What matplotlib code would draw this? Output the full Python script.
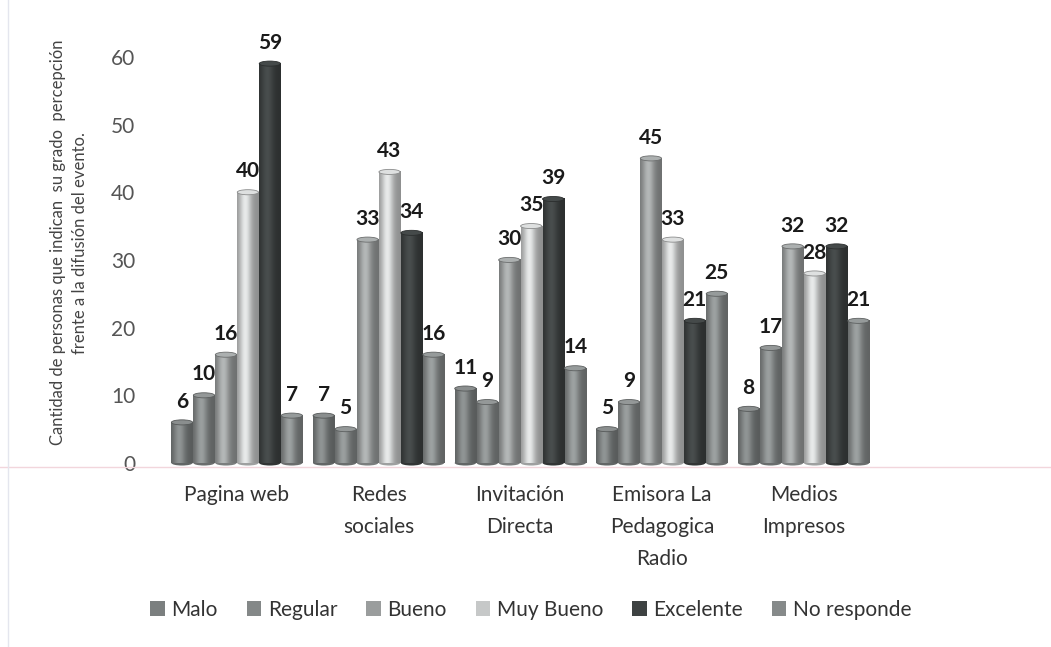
#!/usr/bin/env python3

import numpy as np
import matplotlib
matplotlib.use('Agg')
import matplotlib.pyplot as plt
from matplotlib.patches import Ellipse, Patch
from matplotlib.colors import to_rgb

categories = ['Pagina web', 'Redes\nsociales', 'Invitación\nDirecta',
              'Emisora La\nPedagogica\nRadio', 'Medios\nImpresos']
series = ['Malo', 'Regular', 'Bueno', 'Muy Bueno', 'Excelente', 'No responde']
malo = [6, 7, 11, 5, 8]
regular = [10, 5, 9, 9, 17]
bueno = [16, 33, 30, 45, 32]
muy_bueno = [40, 43, 35, 33, 28]
excelente = [59, 34, 39, 21, 32]
no_responde = [7, 16, 14, 25, 21]
colors = ['#7b7f7f', '#848888', '#9a9d9d', '#c6c8c8', '#3e4242', '#868a8a']


def cylinder(ax, x, w, h, color):
    base = np.array(to_rgb(color))
    t = np.linspace(0, 1, 64)
    prof = 0.72 + 0.45 * np.exp(-((t - 0.38) / 0.28) ** 2)
    img = np.clip(base[None, None, :] * prof[None, :, None], 0, 1)
    ax.imshow(img, extent=[x - w / 2, x + w / 2, 0, h], aspect='auto',
              zorder=2, interpolation='bilinear')
    eh = 0.75
    ax.add_patch(Ellipse((x, 0), w, eh, facecolor=base * 0.8,
                         edgecolor='none', zorder=1.9, clip_on=False))
    ax.add_patch(Ellipse((x, h), w, eh, facecolor=np.clip(base * 1.12, 0, 1),
                         edgecolor=base * 0.7, lw=0.6, zorder=3))


def main():
    plt.rcParams['font.family'] = ['Lato', 'DejaVu Sans']
    data = [malo, regular, bueno, muy_bueno, excelente, no_responde]

    fig = plt.figure(figsize=(10.51, 6.47), dpi=100)
    ax = fig.add_axes([0.158, 184 / 647, 0.674, 440 / 647])

    w = 0.15
    step = 0.155
    for i, vals in enumerate(data):
        for g, v in enumerate(vals):
            x = g + (i - 2.5) * step
            cylinder(ax, x, w, v, colors[i])
            ax.text(x, v + 1.6, str(v), ha='center', va='bottom',
                    fontsize=15, fontweight='bold', color='#1a1a1a', zorder=4)

    ax.set_xlim(-0.5, 4.5)
    ax.set_ylim(0, 65)
    ax.set_aspect('auto')
    ax.set_yticks(range(0, 61, 10))
    ax.set_xticks(range(len(categories)))
    ax.set_xticklabels(categories, fontsize=15, color='#3a3a3a', linespacing=1.75)
    ax.tick_params(axis='both', length=0, labelsize=15, labelcolor='#555555')
    ax.tick_params(axis='x', pad=16, labelcolor='#333333')
    ax.tick_params(axis='y', pad=22)
    for s in ax.spines.values():
        s.set_visible(False)

    fig.text(0.066, 0.625, 'Cantidad de personas que indican  su grado  percepción\n'
             'frente a la difusión del evento.', rotation=90, ha='center',
             va='center', fontsize=12, color='#444444', linespacing=1.45)

    # faint scan line across the page
    fig.add_artist(plt.Line2D([0, 1], [1 - 467 / 647] * 2, color='#f2d6dc', lw=1))
    fig.add_artist(plt.Line2D([0.008] * 2, [0, 1], color='#e4e6ee', lw=1))

    handles = [Patch(facecolor=c, edgecolor='none') for c in colors]
    fig.legend(handles, series, loc='center', bbox_to_anchor=(0.505, 1 - 610 / 647),
               ncol=6, frameon=False, fontsize=15, handlelength=0.7,
               handleheight=0.7, handletextpad=0.3, columnspacing=1.4,
               labelcolor='#333333')

    plt.savefig('out.png', dpi=100)


if __name__ == '__main__':
    main()
